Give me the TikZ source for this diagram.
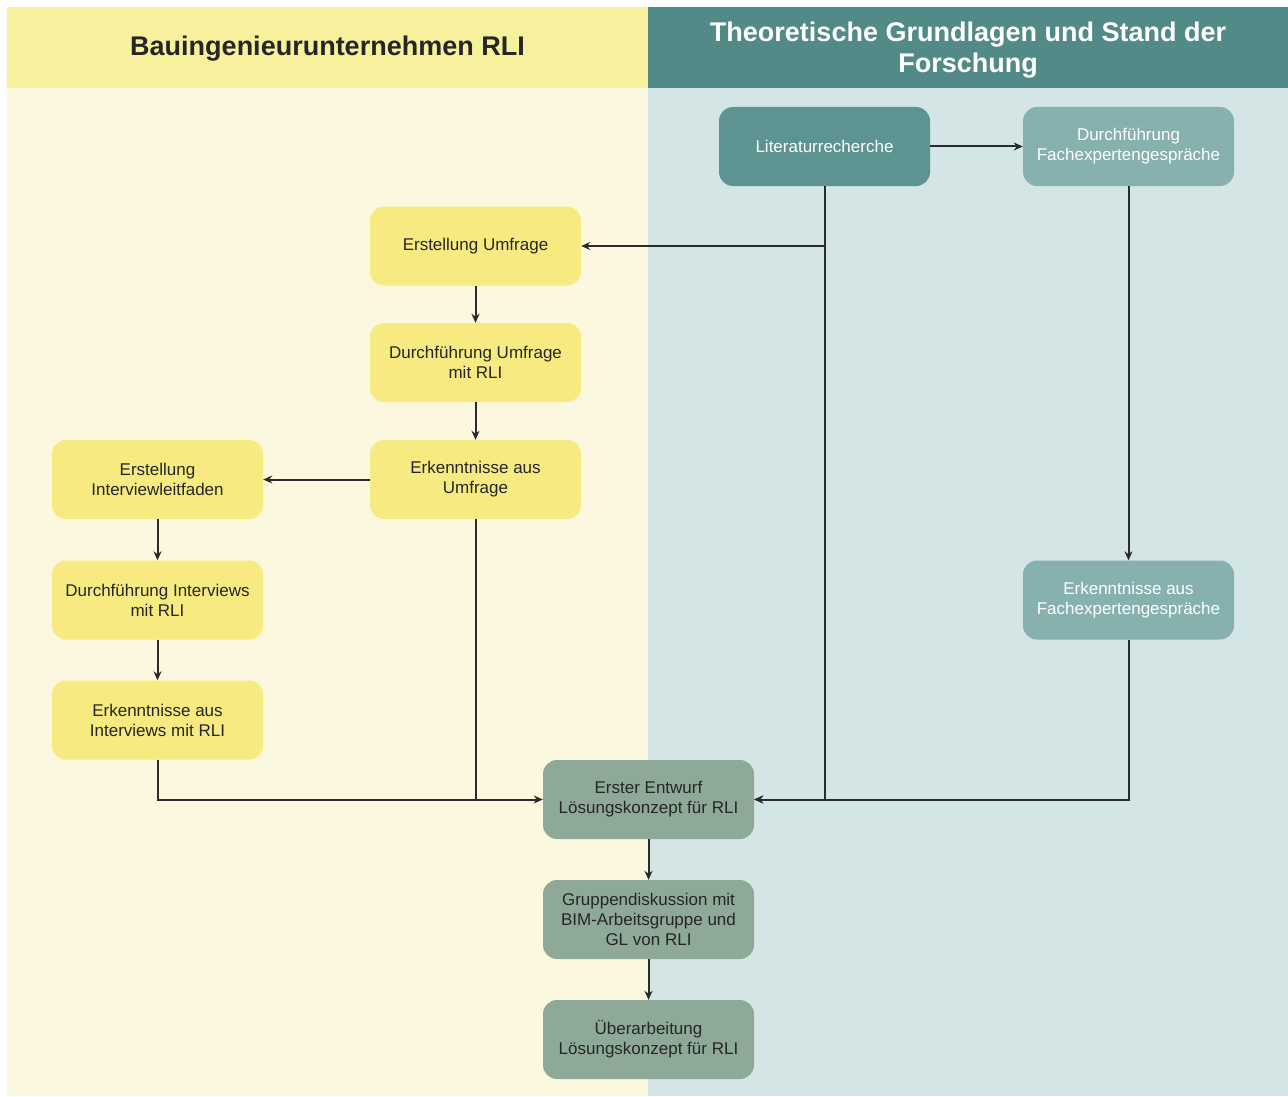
\documentclass[tikz,border=0pt]{standalone}
\usepackage{fontspec}
\setmainfont{Liberation Sans}
\usetikzlibrary{arrows.meta}
\definecolor{yellowhead}{HTML}{F7F09C}
\definecolor{yellowbg}{HTML}{FBF8DF}
\definecolor{tealhead}{HTML}{528A88}
\definecolor{tealbg}{HTML}{D3E5E5}
\definecolor{yellowbox}{HTML}{F6EA80}
\definecolor{darkteal}{HTML}{5D9391}
\definecolor{lightteal}{HTML}{87B1AE}
\definecolor{greygreen}{HTML}{8FA999}
\definecolor{textdark}{HTML}{262626}
\definecolor{linedark}{HTML}{2B2B2B}

\tikzset{
  box/.style={rectangle, rounded corners=14pt, minimum width=211pt,
    minimum height=79pt, align=center, inner sep=2pt,
    font=\fontsize{17}{20}\selectfont},
  ybox/.style={box, fill=yellowbox, text=textdark},
  tbox/.style={box, fill=darkteal, text=white},
  lbox/.style={box, fill=lightteal, text=white},
  gbox/.style={box, fill=greygreen, text=textdark},
  conn/.style={->, >={Stealth[length=9pt,width=8pt]}, line width=2pt, draw=linedark},
  headtext/.style={font=\fontsize{27}{31}\selectfont\bfseries, align=center}
}

\begin{document}
\begin{tikzpicture}[x=1pt, y=-1pt]
        \useasboundingbox (0,0) rectangle (1288,1097);

        % Panels
        \fill[yellowbg] (7,88) rectangle (648,1096);
        \fill[yellowhead] (7,7) rectangle (648,88);
        \fill[tealbg] (648,88) rectangle (1288,1096);
        \fill[tealhead] (648,7) rectangle (1288,88);
        \node[headtext, text=textdark] (lefthead) at (327.5,48.5) {Bauingenieurunternehmen RLI};
        \node[headtext, text=white] (righthead) at (968,50)
          {Theoretische Grundlagen und Stand der\\Forschung};

        % Theory side
        \node[tbox] (litrech) at (824.5,146.5) {Literaturrecherche};
        \node[lbox] (durchfach) at (1128.5,146.5) {Durchführung\\Fachexpertengespräche};
        \node[lbox] (erkfach) at (1128.5,600) {Erkenntnisse aus\\Fachexpertengespräche};

        % Survey
        \node[ybox] (umfrage) at (475.5,246) {Erstellung Umfrage};
        \node[ybox] (durchumf) at (475.5,362.5) {Durchführung Umfrage\\mit RLI};
        \node[ybox] (erkumf) at (475.5,479.5) {Erkenntnisse aus\\Umfrage};

        % Interviews
        \node[ybox] (leitfaden) at (157.5,479.5) {Erstellung\\Interviewleitfaden};
        \node[ybox] (durchint) at (157.5,600) {Durchführung Interviews\\mit RLI};
        \node[ybox] (erkint) at (157.5,720) {Erkenntnisse aus\\Interviews mit RLI};

        % Solution concept
        \node[gbox] (entwurf) at (648.5,799.5) {Erster Entwurf\\Lösungskonzept für RLI};
        \node[gbox] (gruppe) at (648.5,919.5) {Gruppendiskussion mit\\BIM-Arbeitsgruppe und\\GL von RLI};
        \node[gbox] (ueberarb) at (648.5,1039.5) {Überarbeitung\\Lösungskonzept für RLI};

        % Connectors
        \draw[conn] (litrech) -- (durchfach);
        \draw[conn] (durchfach) -- (erkfach);
        \draw[conn] (litrech.south) |- (entwurf.east);
        \draw[conn] (litrech.south |- umfrage.east) -- (umfrage.east);
        \draw[conn] (erkfach.south) |- (entwurf.east);

        \draw[conn] (umfrage) -- (durchumf);
        \draw[conn] (durchumf) -- (erkumf);
        \draw[conn] (erkumf) -- (leitfaden);
        \draw[conn] (leitfaden) -- (durchint);
        \draw[conn] (durchint) -- (erkint);
        \draw[conn] (erkint.south) |- (entwurf.west);
        \draw[line width=2pt, draw=linedark] (erkumf.south) -- (erkumf.south |- entwurf.west);

        \draw[conn] (entwurf) -- (gruppe);
        \draw[conn] (gruppe) -- (ueberarb);

\end{tikzpicture}
\end{document}
